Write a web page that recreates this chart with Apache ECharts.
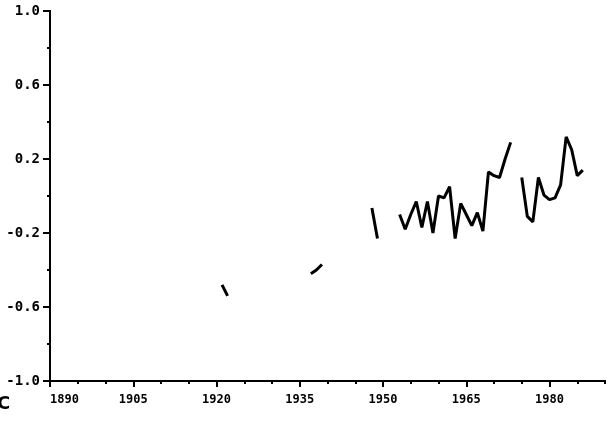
<!DOCTYPE html>
<html>
<head>
<meta charset="utf-8">
<script src="https://cdn.jsdelivr.net/npm/echarts@6/dist/echarts.min.js"></script>
<style>
  html, body { margin: 0; padding: 0; background: #fff; }
  #chart { width: 613px; height: 421px; }
</style>
</head>
<body>
<div id="chart"></div>
<script>
// yearly values, null = gap in the record
const years = [
  1921, 1922, 1923,
  1937, 1938, 1939, 1940,
  1948, 1949, 1950,
  1953, 1954, 1955, 1956, 1957, 1958, 1959, 1960, 1961, 1962, 1963,
  1964, 1965, 1966, 1967, 1968, 1969, 1970, 1971, 1972, 1973, 1974,
  1975, 1976, 1977, 1978, 1979, 1980, 1981, 1982, 1983, 1984, 1985, 1986
]
const anomalies = [
  -0.48, -0.54, null,
  -0.42, -0.40, -0.37, null,
  -0.065, -0.23, null,
  -0.10, -0.18, -0.10, -0.03, -0.17, -0.03, -0.20, 0.00, -0.01, 0.05, -0.23,
  -0.04, -0.10, -0.16, -0.09, -0.19, 0.13, 0.11, 0.10, 0.20, 0.29, null,
  0.10, -0.11, -0.14, 0.10, 0.005, -0.02, -0.01, 0.06, 0.32, 0.25, 0.11, 0.14
]
const xLabels = [1890, 1905, 1920, 1935, 1950, 1965, 1980]
const yLabels = [-1.0, -0.6, -0.2, 0.2, 0.6, 1.0]

const chart = echarts.init(document.getElementById('chart'))

const labelFont = { color: '#000', fontWeight: 'bold', fontFamily: 'DejaVu Sans Mono' }
const black = { color: '#000', width: 2 }

chart.setOption({
  animation: false,
  grid: { left: 50, right: 8, top: 11, bottom: 40 },
  xAxis: [
    {
      type: 'value', min: 1890, max: 1990, interval: 5,
      axisLine: { show: true, onZero: false, lineStyle: black },
      axisTick: { show: true, length: 3, lineStyle: black },
      axisLabel: {
        ...labelFont, fontSize: 12, margin: 13, customValues: xLabels,
        alignMinLabel: 'left', formatter: v => String(v)
      },
      splitLine: { show: false }
    },
    {
      type: 'value', min: 1890, max: 1990, interval: 5, position: 'bottom', offset: 0,
      axisLine: { show: true, onZero: false, lineStyle: black },
      axisTick: { show: true, length: 6, customValues: xLabels, lineStyle: black },
      axisLabel: { show: false },
      splitLine: { show: false }
    }
  ],
  yAxis: [
    {
      type: 'value', min: -1, max: 1, interval: 0.2,
      axisLine: { show: true, onZero: false, lineStyle: black },
      axisTick: { show: true, length: 3, lineStyle: black },
      axisLabel: {
        ...labelFont, fontSize: 14, margin: 10, customValues: yLabels,
        formatter: v => v.toFixed(1)
      },
      splitLine: { show: false }
    },
    {
      type: 'value', min: -1, max: 1, interval: 0.2, position: 'left', offset: 0,
      axisLine: { show: true, onZero: false, lineStyle: black },
      axisTick: { show: true, length: 7, customValues: yLabels, lineStyle: black },
      axisLabel: { show: false },
      splitLine: { show: false }
    }
  ],
  graphic: [
    {
      type: 'text', left: -3, top: 395,
      style: { text: 'C', fontSize: 18, fontWeight: 'bold', fontFamily: 'DejaVu Sans', fill: '#000' }
    }
  ],
  series: [
    {
      type: 'line',
      xAxisIndex: 0,
      yAxisIndex: 0,
      data: years.map((y, i) => [y, anomalies[i]]),
      showSymbol: false,
      connectNulls: false,
      lineStyle: { color: '#000', width: 3 }
    }
  ]
})
</script>
</body>
</html>
